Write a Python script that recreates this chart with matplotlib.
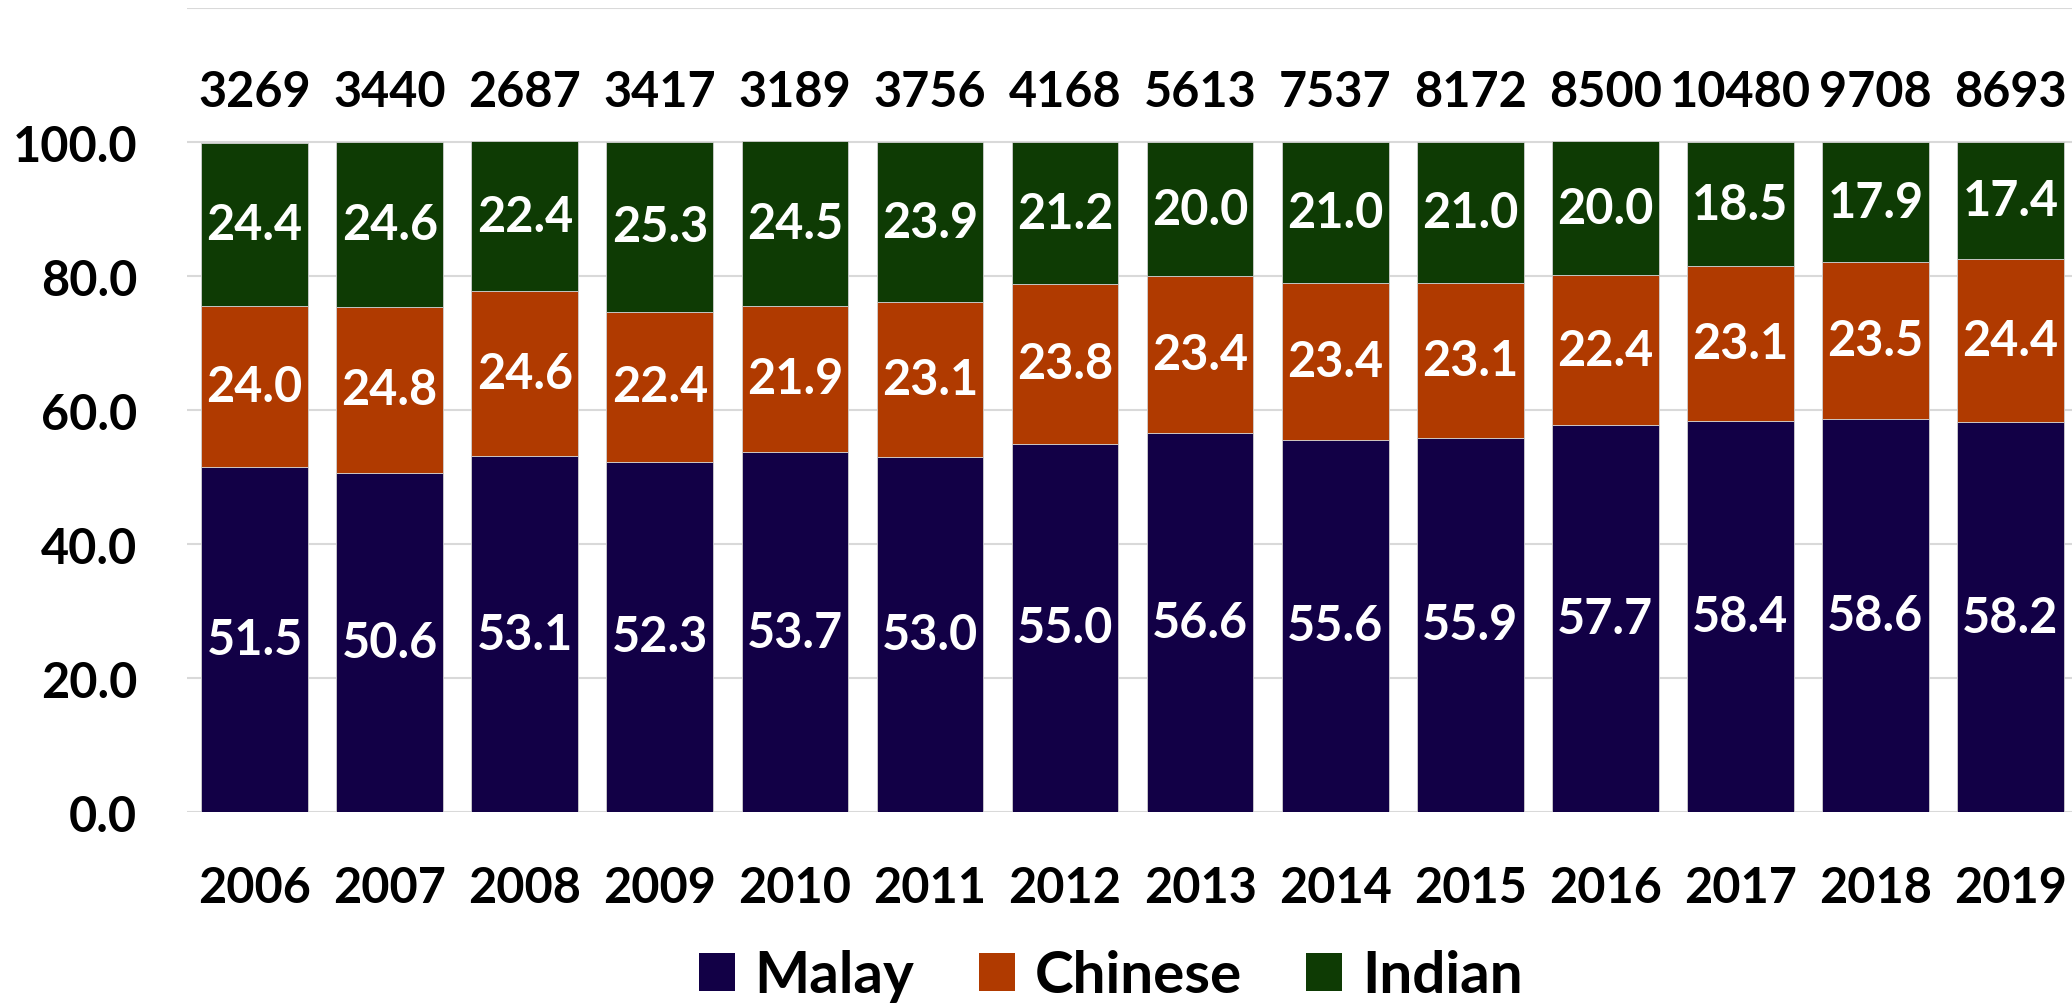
import matplotlib
matplotlib.use("Agg")
import matplotlib.pyplot as plt
from matplotlib.patches import Patch
import numpy as np

# data (share in %, totals on top)
years = ['2006', '2007', '2008', '2009', '2010', '2011', '2012',
         '2013', '2014', '2015', '2016', '2017', '2018', '2019']
malay = [51.5, 50.6, 53.1, 52.3, 53.7, 53.0, 55.0, 56.6, 55.6, 55.9, 57.7, 58.4, 58.6, 58.2]
chinese = [24.0, 24.8, 24.6, 22.4, 21.9, 23.1, 23.8, 23.4, 23.4, 23.1, 22.4, 23.1, 23.5, 24.4]
indian = [24.4, 24.6, 22.4, 25.3, 24.5, 23.9, 21.2, 20.0, 21.0, 21.0, 20.0, 18.5, 17.9, 17.4]
totals = [3269, 3440, 2687, 3417, 3189, 3756, 4168, 5613, 7537, 8172, 8500, 10480, 9708, 8693]

groups = ['Malay', 'Chinese', 'Indian']
colors = ['#120046', '#B03A00', '#0E3B04']

plt.rcParams['font.family'] = ['Lato', 'DejaVu Sans']
plt.rcParams['font.weight'] = 'bold'

fig = plt.figure(figsize=(20.72, 10.04), dpi=100)
ax = fig.add_axes([0.0903, 0.1902, 0.9126, 0.8008])

x = np.arange(len(years))
width = 0.79
bottom = np.zeros(len(years))
for name, vals, col in zip(groups, [malay, chinese, indian], colors):
    bars = ax.bar(x, vals, width, bottom=bottom, color=col, label=name,
                  edgecolor='#d0d0d0', linewidth=0.6, zorder=3)
    ax.bar_label(bars, fmt='%.1f', label_type='center', color='white',
                 fontsize=35, fontweight='bold')
    bottom += np.array(vals)

# totals above the bars
for i, t in enumerate(totals):
    ax.text(x[i], 107.6, str(t), ha='center', va='center', fontsize=35,
            fontweight='bold', color='black')

ax.set_xlim(-0.5, len(years) - 0.5)
ax.set_ylim(0, 120)
ax.set_yticks(np.arange(0, 101, 20))
ax.set_yticklabels(['%.1f' % v for v in np.arange(0, 101, 20)])
ax.set_xticks(x)
ax.set_xticklabels(years)
ax.tick_params(axis='y', length=0, pad=36, labelsize=35)
ax.tick_params(axis='x', length=0, pad=38, labelsize=35)

# gridlines incl. the 120 line at the very top
for g in np.arange(0, 121, 20):
    ax.axhline(g, color='#d9d9d9', linewidth=1.5, zorder=0)
for s in ax.spines.values():
    s.set_visible(False)

handles = [Patch(facecolor=c, label=n) for n, c in zip(groups, colors)]
fig.legend(handles=handles, loc='center', bbox_to_anchor=(0.536, 0.027),
           ncol=3, frameon=False, handlelength=0.62,
           handleheight=0.62, handletextpad=0.34, columnspacing=1.1,
           borderpad=0, prop={'weight': 'bold', 'size': 42})

fig.savefig('out.png', dpi=100)
